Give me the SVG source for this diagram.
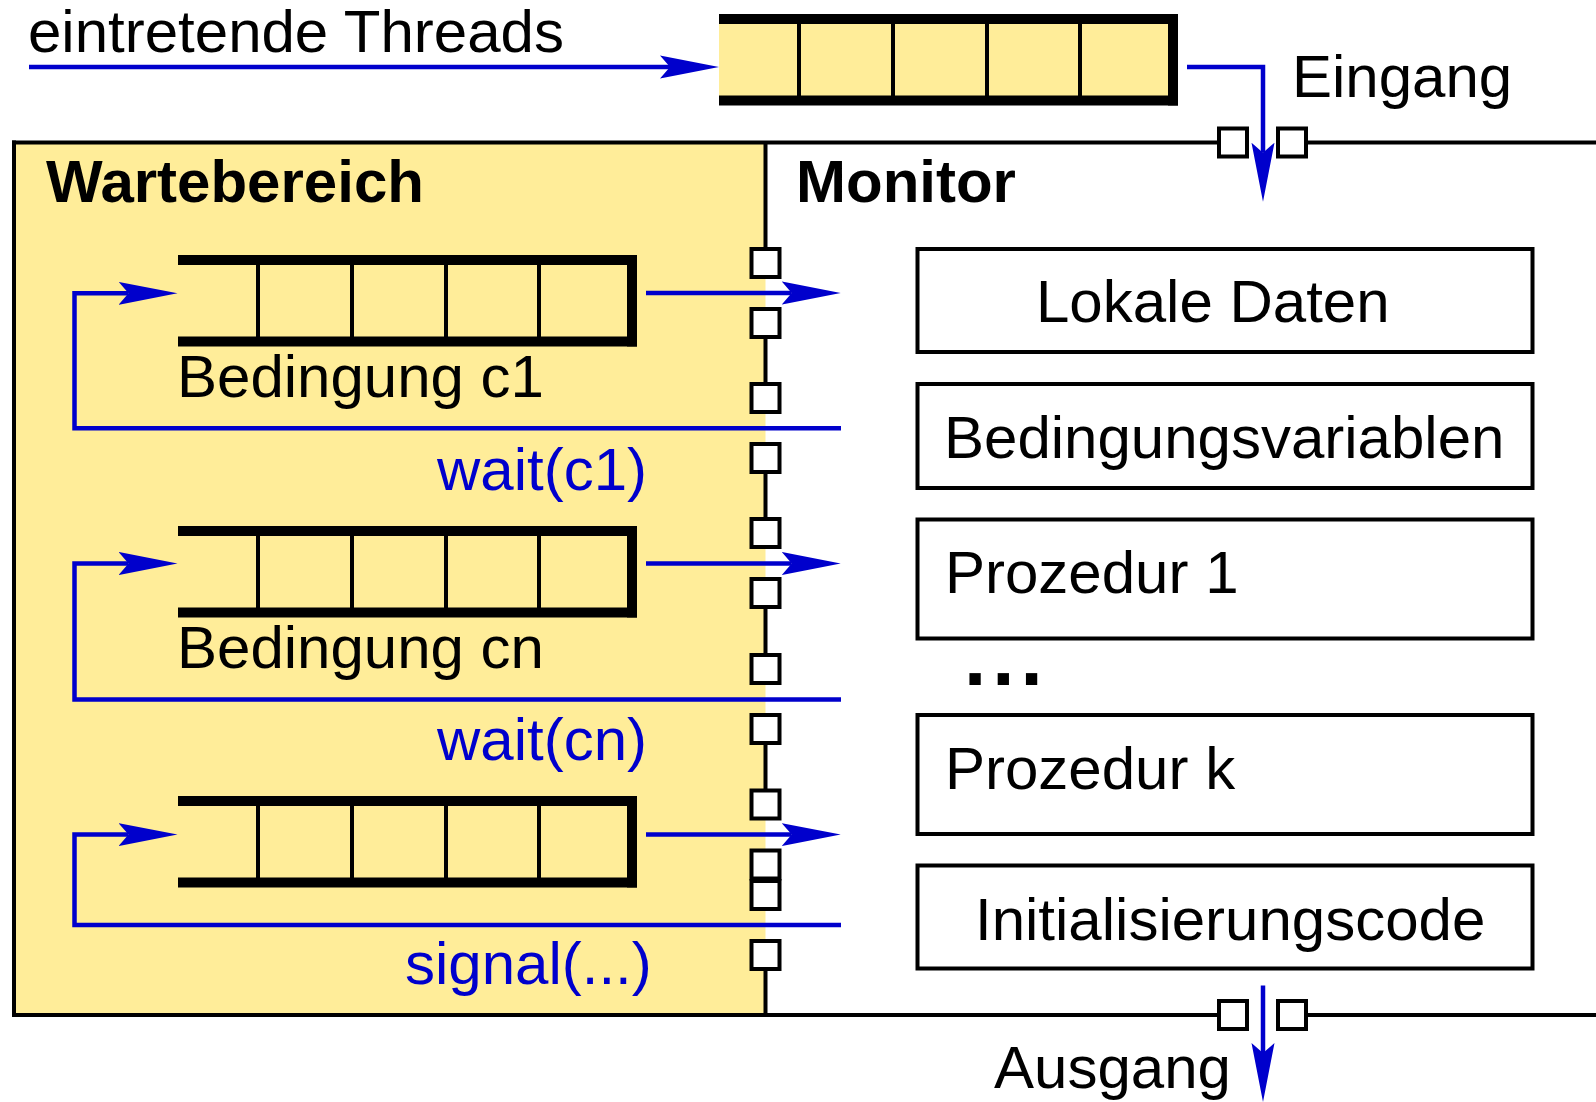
<svg xmlns="http://www.w3.org/2000/svg" xmlns:xlink="http://www.w3.org/1999/xlink" width="1596" height="1102" viewBox="0 0 1596 1102">
  <style>
    text { font-family: "Liberation Sans", Arial, sans-serif; font-size: 60px; fill: #000; }
    .title { font-weight: bold; font-size: 60px; }
    .op { fill: #0000CC; }
    .border { stroke: #000; stroke-width: 4; fill: none; }
    .part { fill: #fff; stroke: #000; stroke-width: 4; }
    .port { fill: #fff; stroke: #000; stroke-width: 4; }
    .flow { fill: none; stroke: #0000CC; stroke-width: 4.5; marker-end: url(#head); }
  </style>
  <defs>
    <!-- notched arrowhead; the path ends at the notch -->
    <marker id="head" markerUnits="userSpaceOnUse" viewBox="0 0 60 24" refX="10" refY="12" markerWidth="60" markerHeight="24" orient="auto">
      <path d="M0,0.5 L59,12 L0,23.5 L10,12 Z" fill="#0000CC"/>
    </marker>
    <!-- queue with open left end -->
    <symbol id="queue" overflow="visible">
      <rect x="0" y="10" width="450" height="72" fill="#FFED99"/>
      <rect x="0" y="0" width="459" height="10" fill="#000"/>
      <rect x="0" y="81.5" width="459" height="10" fill="#000"/>
      <rect x="449" y="0" width="10" height="91.5" fill="#000"/>
      <g stroke="#000" stroke-width="4">
        <line x1="80" y1="8" x2="80" y2="84"/>
        <line x1="174" y1="8" x2="174" y2="84"/>
        <line x1="268" y1="8" x2="268" y2="84"/>
        <line x1="361" y1="8" x2="361" y2="84"/>
      </g>
    </symbol>
    <rect id="port" x="-14" y="-14" width="28" height="28" class="port"/>
  </defs>

  <rect width="1596" height="1102" fill="#fff"/>

  <!-- waiting area / monitor frame -->
  <g id="frame">
    <rect x="14" y="142.5" width="751.5" height="872.5" fill="#FFED99"/>
    <g class="border">
      <line x1="14" y1="140.5" x2="14" y2="1017"/>
      <path d="M12,142.5 H1219 M1306,142.5 H1600"/>
      <path d="M12,1015 H1219 M1306,1015 H1600"/>
      <!-- divider between waiting area and monitor -->
      <path d="M765.5,142.5 V263 M765.5,323 V398 M765.5,458 V533 M765.5,593 V669 M765.5,729 V804 M765.5,955 V1015"/>
    </g>
    <text x="46" y="202" class="title">Wartebereich</text>
    <text x="796" y="202" class="title">Monitor</text>
  </g>

  <!-- ports on the frame -->
  <g id="ports">
    <use xlink:href="#port" x="1233" y="142.5"/>
    <use xlink:href="#port" x="1292" y="142.5"/>
    <use xlink:href="#port" x="1233" y="1015"/>
    <use xlink:href="#port" x="1292" y="1015"/>
    <use xlink:href="#port" x="765.5" y="263"/>
    <use xlink:href="#port" x="765.5" y="323"/>
    <use xlink:href="#port" x="765.5" y="398"/>
    <use xlink:href="#port" x="765.5" y="458"/>
    <use xlink:href="#port" x="765.5" y="533"/>
    <use xlink:href="#port" x="765.5" y="593"/>
    <use xlink:href="#port" x="765.5" y="669"/>
    <use xlink:href="#port" x="765.5" y="729"/>
    <use xlink:href="#port" x="765.5" y="804.5"/>
    <use xlink:href="#port" x="765.5" y="864.5"/>
    <use xlink:href="#port" x="765.5" y="895"/>
    <use xlink:href="#port" x="765.5" y="955"/>
  </g>

  <!-- entry queue -->
  <g id="entry-queue">
    <use xlink:href="#queue" x="719" y="14"/>
    <text x="28" y="52">eintretende Threads</text>
    <text x="1292" y="97">Eingang</text>
  </g>

  <!-- condition queues -->
  <g id="queue-c1">
    <use xlink:href="#queue" x="178" y="255"/>
    <text x="177" y="397">Bedingung c1</text>
  </g>
  <g id="queue-cn">
    <use xlink:href="#queue" x="178" y="526"/>
    <text x="177" y="668">Bedingung cn</text>
  </g>
  <g id="queue-signal">
    <use xlink:href="#queue" x="178" y="796"/>
  </g>

  <!-- monitor contents -->
  <g id="local-data">
    <rect x="917.5" y="249" width="615" height="103" class="part"/>
    <text x="1036" y="322">Lokale Daten</text>
  </g>
  <g id="condition-vars">
    <rect x="917.5" y="384" width="615" height="104" class="part"/>
    <text x="944" y="458">Bedingungsvariablen</text>
  </g>
  <g id="procedure-1">
    <rect x="917.5" y="519.5" width="615" height="119" class="part"/>
    <text x="945" y="593">Prozedur 1</text>
  </g>
  <g id="ellipsis">
    <text x="964" y="685" style="font-weight:bold;font-size:80px;letter-spacing:6px">...</text>
  </g>
  <g id="procedure-k">
    <rect x="917.5" y="715" width="615" height="119" class="part"/>
    <text x="945" y="789">Prozedur k</text>
  </g>
  <g id="init-code">
    <rect x="917.5" y="865.5" width="615" height="103" class="part"/>
    <text x="975" y="940">Initialisierungscode</text>
  </g>
  <text x="994" y="1088">Ausgang</text>

  <!-- connectors -->
  <g id="connectors">
    <path class="flow" d="M29,67 H670"/>
    <path class="flow" d="M1187,67 H1263 V152.7"/>
    <path class="flow" d="M646,293 H791.7"/>
    <path class="flow" d="M841,428.3 H74.5 V293.3 H128.5"/>
    <path class="flow" d="M646,563.5 H791.7"/>
    <path class="flow" d="M841,699.5 H74.5 V563.5 H128.5"/>
    <path class="flow" d="M646,834.6 H791.7"/>
    <path class="flow" d="M841,925 H74.5 V834.6 H128.5"/>
    <path class="flow" d="M1263,985.5 V1053"/>
    <text x="437" y="490" class="op">wait(c1)</text>
    <text x="437" y="760" class="op">wait(cn)</text>
    <text x="405" y="984" class="op">signal(...)</text>
  </g>
</svg>
